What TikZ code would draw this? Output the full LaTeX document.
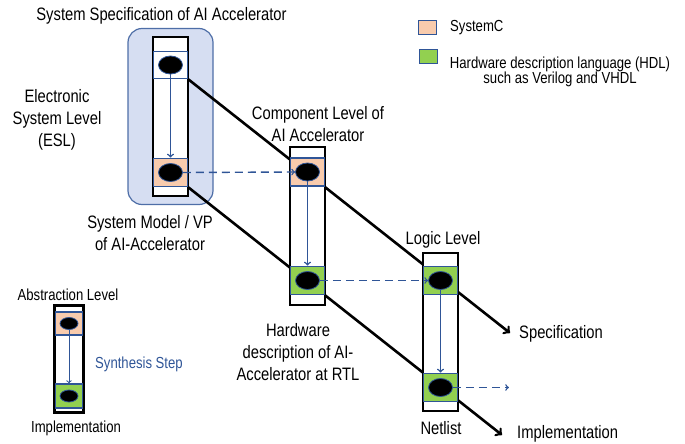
\documentclass[tikz,border=0pt]{standalone}
\usepackage{fontspec}
\setmainfont{Liberation Sans}[FakeStretch=0.82]
\usetikzlibrary{shapes.geometric,fit,backgrounds}
\definecolor{peach}{HTML}{F8CBAD}
\definecolor{hdlgreen}{HTML}{92D050}
\definecolor{stepblue}{HTML}{2F5597}
\definecolor{eslblue}{HTML}{D6DEF2}

\begin{document}
\begin{tikzpicture}[x=1pt, y=-1pt,
    every node/.style={font=\fontsize{18}{22}\selectfont, align=center, inner sep=0},
    small/.style={font=\fontsize{16}{15}\selectfont},
    level/.style={draw, line width=2pt, fill=white, minimum width=35, minimum height=158},
    lang/.style={draw=stepblue, line width=1.8pt, minimum width=34, minimum height=28},
    sysc/.style={lang, fill=peach},
    hdl/.style={lang, fill=hdlgreen},
    dot/.style={ellipse, fill=black, draw=stepblue, line width=0.8pt, minimum width=24, minimum height=18},
    synth/.style={draw=stepblue, line width=1.5pt, ->},
    refine/.style={draw=stepblue, line width=1.4pt, dash pattern=on 8pt off 5pt, ->},
    flow/.style={draw, line width=2.6pt, ->}]
  \useasboundingbox (0,0) rectangle (685,444);

  % abstraction levels
  \node[level] (esl) at (170.5,116.5) {};
  \node[lang, fill=white, minimum height=27] (esltop) at (170.5,65) {};
  \node[sysc] (eslbot) at (170.5,172.5) {};
  \node[level] (comp) at (307.5,225.5) {};
  \node[sysc] (comptop) at (307.5,172) {};
  \node[hdl] (compbot) at (307.5,280.5) {};
  \node[level] (logic) at (440.5,332) {};
  \node[hdl] (logictop) at (440.5,280.5) {};
  \node[hdl] (logicbot) at (440.5,387.5) {};
  \foreach \b in {esltop,eslbot,comptop,compbot,logictop,logicbot}
    \node[dot] (\b dot) at (\b) {};

  \coordinate (specend) at (510,333);
  \coordinate (implend) at (502,435);
  \begin{scope}[on background layer]
    \node[fit=(esl), inner xsep=24, inner ysep=8, rounded corners=14,
      fill=eslblue, draw=stepblue!85, line width=1.2pt] (eslbg) {};
    \draw[flow] (esltop.south east) -- (specend);
    \draw[flow] (eslbot.south east) -- (implend);
  \end{scope}

  \draw[synth] (esltopdot.south) -- (eslbot.north);
  \draw[synth] (comptopdot.south) -- (compbot.north);
  \draw[synth] (logictopdot.south) -- (logicbot.north);
  \draw[refine] (eslbotdot.east) -- (comptopdot.west);
  \draw[refine] (compbotdot.east) -- (logictopdot.west);
  \draw[refine] (logicbotdot.east) -- ++(56,0) coordinate (out);

  \node (title) at (161.5,16) {System Specification of AI Accelerator};
  \node (esltxt) at (57,119.5) {Electronic\\System Level\\(ESL)};
  \node (modeltxt) at (150,233) {System Model / VP\\of AI-Accelerator};
  \node (comptxt) at (318,124) {Component Level of\\AI Accelerator};
  \node (rtltxt) at (298,352) {Hardware\\description of AI-\\Accelerator at RTL};
  \node (logictxt) at (443,240) {Logic Level};
  \node (netlist) at (441,428) {Netlist};
  \node[anchor=west] (spectxt) at (519,334) {Specification};
  \node[anchor=west] (impltxt) at (517,433.5) {Implementation};

  % legend
  \node[draw=stepblue, line width=0.8pt, fill=peach, minimum width=18, minimum height=14] (keysc) at (427.5,27.5) {};
  \node[draw=stepblue, line width=0.8pt, fill=hdlgreen, minimum width=18, minimum height=14] (keyhdl) at (428,56) {};
  \node[small, anchor=west] (keysctxt) at (450,28) {SystemC};
  \node[small] (keyhdltxt) at (560,71.5) {Hardware description language (HDL)\\such as Verilog and VHDL};

  \node[level, line width=1.6pt, minimum width=28, minimum height=106] (key) at (69,359) {};
  \node[lang, fill=peach, line width=1.4pt, minimum width=28, minimum height=23] (keytop) at (69,323.5) {};
  \node[lang, fill=hdlgreen, line width=1.4pt, minimum width=28, minimum height=24] (keybot) at (69,396) {};
  \node[dot, minimum width=18, minimum height=12] (keytopdot) at (keytop) {};
  \node[dot, minimum width=18, minimum height=12] (keybotdot) at (keybot) {};
  \draw[line width=1.6pt] (key.north west) rectangle (key.south east);
  \draw[synth, line width=1pt] (keytopdot.south) -- (keybot.north);
  \node[small] (keyabs) at (68,295) {Abstraction Level};
  \node[small] (keyimpl) at (76,428) {Implementation};
  \node[small, anchor=west, text=stepblue] (keysynth) at (95,364) {Synthesis Step};
\end{tikzpicture}
\end{document}
